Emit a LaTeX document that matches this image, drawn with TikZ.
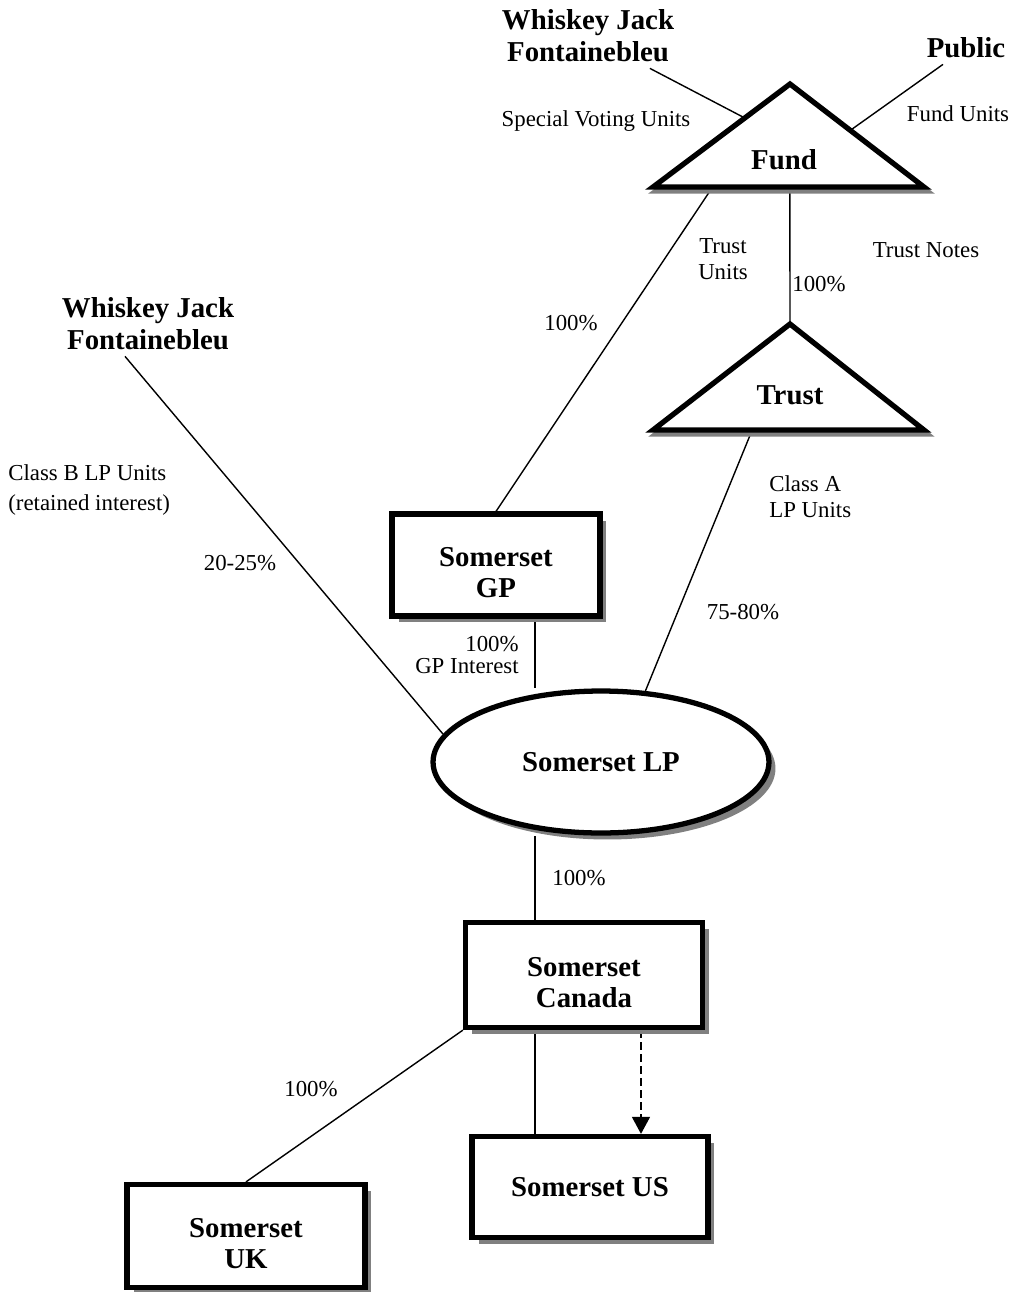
\documentclass[tikz,border=0pt]{standalone}
\usepackage{fontspec}
\setmainfont{Liberation Serif}
\usetikzlibrary{shapes.geometric,shadows,arrows.meta,backgrounds,calc}
\newcommand{\toprule}{\rule{0pt}{19pt}}

\begin{document}
\begin{tikzpicture}[x=0.02cm,y=-0.02cm,
	link/.style={line width=0.8pt},
	heavy/.style={line width=3pt},
	boxshadow/.style={drop shadow={shadow xshift=0.13cm,shadow yshift=-0.13cm,fill=gray,opacity=1}},
	entity/.style={draw,heavy,fill=white,boxshadow,align=center,font=\bfseries\fontsize{16.4}{17.6}\selectfont},
	holder/.style={align=center,font=\bfseries\fontsize{16.4}{18.2}\selectfont},
	lbl/.style={inner sep=0pt,font=\fontsize{13}{15}\selectfont}]
	\useasboundingbox (0,0) rectangle (1016,1292);
	% unit holders
	\node[holder] (wjtop) at (588,36) {Whiskey Jack\\Fontainebleu};
	\node[holder] (public) at (966,48) {Public};
	\node[holder] (wjleft) at (148,324) {Whiskey Jack\\Fontainebleu};
	% fund and trust
	\coordinate (fund-top) at (790,84);
	\coordinate (fund-left) at (653,187);
	\coordinate (fund-right) at (924,187);
	\coordinate (trust-top) at (790,324);
	\coordinate (trust-left) at (653,430);
	\coordinate (trust-right) at (924,430);
	\foreach \t in {fund,trust}{
		\draw[heavy,gray] ([shift={(3,4)}]\t-top) -- ([shift={(3,4)}]\t-left) -- ([shift={(3,4)}]\t-right) -- cycle;
		\draw[heavy,fill=white] (\t-top) -- (\t-left) -- (\t-right) -- cycle;
	}
	\node[holder] (fund) at (784,160) {Fund};
	\node[holder] (trust) at (790,395) {Trust};
	\coordinate (svu) at ($(fund-top)!0.33!(fund-left)$);
	\coordinate (fu) at ($(fund-top)!0.45!(fund-right)$);
	\coordinate (fundgp) at ($(fund-left)!0.22!(fund-right)$);
	\coordinate (fundmid) at ($(fund-left)!0.505!(fund-right)$);
	\coordinate (trustlp) at ($(trust-left)!0.366!(trust-right)$);
	% entities
	\node[entity,minimum width=4.16cm,minimum height=2.04cm] (gp) at (496,565) {\toprule Somerset\\GP};
	\node[entity,ellipse,inner sep=0pt,minimum width=6.72cm,minimum height=2.84cm] (lp) at (601,762) {Somerset LP};
	\node[entity,minimum width=4.74cm,minimum height=2.1cm] (canada) at (584,975) {\toprule Somerset\\Canada};
	\node[entity,minimum width=4.72cm,minimum height=2.02cm] (us) at (590,1187) {Somerset US};
	\node[entity,minimum width=4.76cm,minimum height=2.06cm] (uk) at (246,1236) {\toprule Somerset\\UK};
	% connectors
	\begin{scope}[on background layer]
		\draw[link] (wjtop) -- (svu);
		\draw[link] (public) -- (fu);
		\draw[link] (fundgp) -- (gp.north);
		\draw[link] (fundmid) -- (trust-top);
		\draw[link] (trustlp) -- (lp.58);
		\draw[link] ([xshift=-0.46cm]wjleft.south) -- (lp.170);
		\draw[link] ([xshift=0.78cm]gp.south) -- ([xshift=0.78cm]gp.south |- lp.north);
		\draw[link] ([xshift=-0.98cm]canada.north) -- ([xshift=-0.98cm]canada.north |- lp.south);
		\draw[link] ([xshift=-0.98cm]canada.south) -- ([xshift=-0.98cm]canada.south |- us.north);
		\draw[link,dash pattern=on 0.15cm off 0.09cm,-{Triangle[length=0.34cm,width=0.36cm]}] ([xshift=1.14cm]canada.south) -- ([xshift=1.14cm]canada.south |- us.north);
		\draw[link] (canada.south west) -- (uk.north);
	\end{scope}
	% labels
	\node[lbl] (svulbl) at (596,121) {Special Voting Units};
	\node[lbl] (fulbl) at (958,114) {Fund Units};
	\node[lbl,align=center,font=\fontsize{13}{14.8}\selectfont] (tulbl) at (723,259) {Trust\\Units};
	\node[lbl] (tupct) at (571,323) {100\%};
	\node[lbl] (tnpct) at (819,284) {100\%};
	\node[lbl] (tnlbl) at (926,250) {Trust Notes};
	\node[lbl,align=left,anchor=west,font=\fontsize{13}{17.6}\selectfont] (classb) at (8,490) {Class B LP Units\\(retained interest)};
	\node[lbl] (classbpct) at (240,563) {20-25\%};
	\node[lbl,align=left,anchor=west,font=\fontsize{13}{14.8}\selectfont] (classa) at (769,497) {Class A\\LP Units};
	\node[lbl] (classapct) at (743,612) {75-80\%};
	\node[lbl,align=right,anchor=east,font=\fontsize{13}{12}\selectfont] (gplbl) at (519,655) {100\%\\GP Interest};
	\node[lbl] (canpct) at (579,878) {100\%};
	\node[lbl] (ukpct) at (311,1089) {100\%};
\end{tikzpicture}
\end{document}
